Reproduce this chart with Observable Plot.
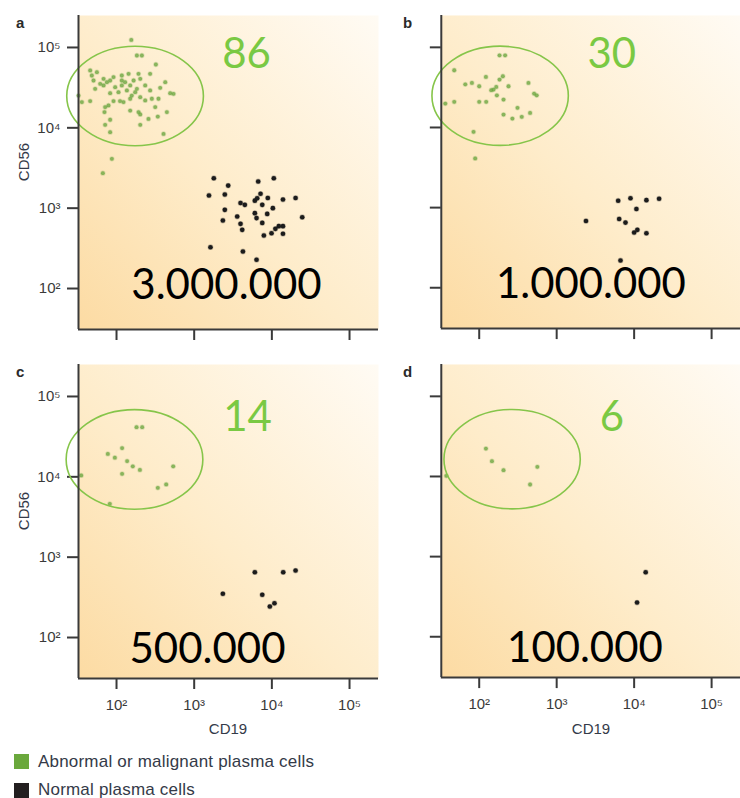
<!DOCTYPE html>
<html><head><meta charset="utf-8">
<script src="https://cdn.jsdelivr.net/npm/d3@7"></script>
<script src="https://cdn.jsdelivr.net/npm/@observablehq/plot@0.6"></script>
<style>
body{margin:0;background:#fff;}
#chart{position:relative;width:740px;height:798px;overflow:hidden;font-family:"Liberation Sans",Arial,sans-serif;}
.panel{position:absolute;}
.panel svg g[aria-label$="tick"] path{stroke-width:2px;}
.lbl{position:absolute;color:#343a48;font-size:15px;line-height:15px;white-space:nowrap;}
.letter{position:absolute;font-weight:bold;font-size:15px;line-height:15px;color:#2a2a2a;}
.sw{position:absolute;width:15px;height:15px;}
.leg{position:absolute;left:38px;font-size:17px;line-height:17px;color:#343a48;white-space:nowrap;letter-spacing:0.2px;}
</style></head><body><div id="chart"></div><script>
// ---- data (CD19 on x, CD56 on y) ----
const aGreenCD19 = [155,183,212,321,45.8,55.9,48.1,68.1,91.5,117,143,192,271,424,50.6,61.6,75.2,82.8,117,129,166,202,53.1,68.1,96.1,117,150,183,234,365,491,542,82.8,106,136,174,271,157,202,35.8,45.8,32.4,91.5,111,123,150,234,285,347,71.4,78.9,150,192,202,315,445,70,82.8,258,340,71.4,202,403,82.8,87.1,66.7];
const aGreenCD56 = [124000,79400,79400,61400,51800,49300,44800,40700,42800,44800,47000,47000,47000,37000,38800,35300,37000,38800,38800,37000,38800,40700,30600,33700,32100,33700,33700,30600,33700,31500,27000,26500,27000,27800,29200,27800,29200,25200,24100,20900,21500,25200,21500,21500,20900,23000,21900,23000,23000,18100,19000,16400,15700,14700,18100,15700,15700,12600,12900,13800,10900,10900,8400,8830,4110,2730];
const aBlackCD19 = [1790,2740,6670,10600,1550,2480,7150,6040,6470,8870,13900,20200,3950,4490,7520,10300,2480,3580,6040,8710,6350,7520,2340,3950,4150,24600,12300,13900,11100,9900,7890,13900,1620,4240,6350];
const aBlackCD56 = [2360,1910,2150,2360,1440,1480,1510,1240,1330,1340,1280,1340,1160,1100,1100,1000,953,787,867,849,752,656,702,638,537,772,597,597,553,488,457,480,327,289,228];

const bGreenCD19 = [183,216,47.6,122,183,202,66.1,80.5,100,166,239,143,153,432,169,206,511,552,36.5,47.6,100,123,312,454,206,268,354,84.5,88.7];
const bGreenCD56 = [79400,79400,51800,42800,39600,43600,34600,36000,32700,32100,32700,29200,29700,36000,25200,22300,26500,25200,19900,20900,20900,20900,17600,15200,14500,12900,13600,8830,4110];
const bBlackCD19 = [6220,8970,14400,21000,10700,2390,6410,7730,10000,11000,14400,6670];
const bBlackCD56 = [1220,1310,1240,1290,962,682,722,650,488,528,479,219];

const cGreenCD19 = [181,214,118,77.3,95.2,137,162,200,537,118,35.1,436,340,82.0];
const cGreenCD56 = [41500,41500,22800,19300,17300,15700,13500,12200,13500,10900,10400,8040,7290,4610];
const cBlackCD19 = [6040,14000,20200,2340,7520,9420,10800];
const cBlackCD56 = [650,650,682,350,340,243,267];

const dGreenCD19 = [122,146,206,563,454,37.6];
const dGreenCD56 = [22300,15500,12000,13200,7940,10200];
const dBlackCD19 = [14100,10900];
const dBlackCD56 = [638,267];

// gate (ellipse) bounds per panel: CD19 min/max, CD56 min/max
const gateCD19 = [[23.2,1334],[24.9,1435],[22.8,1312],[35.6,2046]];
const gateCD56 = [[5890,102000],[5890,102000],[3890,67600],[3890,67600]];

const panelLetters = ["a","b","c","d"];
const abnormalCounts = ["86","30","14","6"];
const totalCells = ["3.000.000","1.000.000","500.000","100.000"];
const tickValues = [1e2,1e3,1e4,1e5];
const xAxisTitle = "CD19", yAxisTitle = "CD56";
const legendLabels = ["Abnormal or malignant plasma cells","Normal plasma cells"];

// ---- layout ----
const xDomain = [32.4, 236000];
const yDomain = [30.9, 250000];
const GREEN = "#7ac943", DOT_GREEN = "#6ea842", AXIS = "#3a3a3a";
const sup = {2:"\u00b2",3:"\u00b3",4:"\u2074",5:"\u2075"};
const fmt = d => "10" + sup[Math.round(Math.log10(d))];

const greens = [[aGreenCD19,aGreenCD56],[bGreenCD19,bGreenCD56],[cGreenCD19,cGreenCD56],[dGreenCD19,dGreenCD56]];
const blacks = [[aBlackCD19,aBlackCD56],[bBlackCD19,bBlackCD56],[cBlackCD19,cBlackCD56],[dBlackCD19,dBlackCD56]];
const layout = [
  {left:0, top:0, yLab:true, xLab:false, count:[168,23], total:[148,254]},
  {left:363, top:0, yLab:false, xLab:false, count:[171,23], total:[150,253]},
  {left:0, top:349, yLab:true, xLab:true, count:[169,37], total:[129,269]},
  {left:363, top:349, yLab:false, xLab:true, count:[171,37], total:[144,269]}
];

const chart = document.getElementById("chart");
const NS = "http://www.w3.org/2000/svg";

layout.forEach((L, i) => {
  const pts = (arr) => arr[0].map((x, k) => ({cd19: x, cd56: arr[1][k]}));
  const gate = {x0: gateCD19[i][0], x1: gateCD19[i][1], y0: gateCD56[i][0], y1: gateCD56[i][1]};
  const gid = "bg" + i;
  const ellipseMark = (index, scales) => {
    const x0 = scales.x(gate.x0), x1 = scales.x(gate.x1), y0 = scales.y(gate.y0), y1 = scales.y(gate.y1);
    const e = document.createElementNS(NS, "ellipse");
    e.setAttribute("cx", (x0 + x1) / 2); e.setAttribute("cy", (y0 + y1) / 2);
    e.setAttribute("rx", Math.abs(x1 - x0) / 2); e.setAttribute("ry", Math.abs(y1 - y0) / 2);
    e.setAttribute("fill", "none"); e.setAttribute("stroke", "#86c54a"); e.setAttribute("stroke-width", 1.6);
    return e;
  };
  const svg = Plot.plot({
    width: 378, height: L.xLab ? 380 : 349,
    marginLeft: 78, marginRight: 0, marginTop: 15, marginBottom: L.xLab ? 51 : 20,
    style: {background: "transparent", color: AXIS, fontSize: "15px", fontFamily: "'Liberation Sans', Arial, sans-serif", overflow: "visible"},
    x: {type: "log", domain: xDomain, ticks: tickValues, tickSize: 11, tickPadding: 10, tickFormat: L.xLab ? fmt : () => "", label: null},
    y: {type: "log", domain: yDomain, ticks: tickValues, tickSize: 11, tickPadding: 7, tickFormat: L.yLab ? fmt : () => "", label: null},
    marks: [
      Plot.frame({fill: `url(#${gid})`, stroke: "none"}),
      Plot.dot(pts(greens[i]), {x: "cd19", y: "cd56", r: 1.9, fill: DOT_GREEN, fillOpacity: 0.8, stroke: DOT_GREEN, strokeOpacity: 0.25, strokeWidth: 1.5}),
      Plot.dot(pts(blacks[i]), {x: "cd19", y: "cd56", r: 2.3, fill: "#1c1c1c", stroke: "#1c1c1c", strokeOpacity: 0.25, strokeWidth: 1.2}),
      ellipseMark,
      Plot.ruleX([xDomain[0]], {stroke: AXIS, strokeWidth: 2}),
      Plot.ruleY([yDomain[0]], {stroke: AXIS, strokeWidth: 2}),
      Plot.text([abnormalCounts[i]], {frameAnchor: "top-left", dx: L.count[0], dy: L.count[1], text: d => d, fill: GREEN, fontSize: 42, fontFamily: "Lato, 'Open Sans', sans-serif", textAnchor: "middle"}),
      Plot.text([totalCells[i]], {frameAnchor: "top-left", dx: L.total[0], dy: L.total[1], text: d => d, fill: "#000", fontSize: 42, fontFamily: "Lato, 'Open Sans', sans-serif", textAnchor: "middle"})
    ]
  });
  const defs = d3.select(svg).insert("defs", ":first-child");
  const g = defs.append("linearGradient").attr("id", gid).attr("x1", 0).attr("y1", 1).attr("x2", 1).attr("y2", 0);
  g.append("stop").attr("offset", "0").attr("stop-color", "#fcdba3");
  g.append("stop").attr("offset", "0.45").attr("stop-color", "#feecca");
  g.append("stop").attr("offset", "1").attr("stop-color", "#fffbf4");
  const wrap = document.createElement("div");
  wrap.className = "panel";
  wrap.style.left = L.left + "px"; wrap.style.top = L.top + "px";
  wrap.appendChild(svg);
  chart.appendChild(wrap);

  const letter = document.createElement("div");
  letter.className = "letter"; letter.textContent = panelLetters[i];
  letter.style.left = (L.left + (i % 2 ? 40 : 16)) + "px"; letter.style.top = (L.top + 15) + "px";
  chart.appendChild(letter);

  if (L.yLab) {
    const t = document.createElement("div");
    t.className = "lbl"; t.textContent = yAxisTitle;
    t.style.left = (L.left + 23) + "px"; t.style.top = (L.top + 162) + "px";
    t.style.transform = "translate(-50%,-50%) rotate(-90deg)";
    chart.appendChild(t);
  }
  if (L.xLab) {
    const t = document.createElement("div");
    t.className = "lbl"; t.textContent = xAxisTitle;
    t.style.left = (L.left + 228) + "px"; t.style.top = (L.top + 379) + "px";
    t.style.transform = "translate(-50%,-50%)";
    chart.appendChild(t);
  }
});

// legend
const legColors = ["#6aa83c", "#231f20"];
legendLabels.forEach((lab, i) => {
  const sw = document.createElement("div");
  sw.className = "sw"; sw.style.left = "14px"; sw.style.top = (754 + i * 29) + "px"; sw.style.background = legColors[i];
  chart.appendChild(sw);
  const t = document.createElement("div");
  t.className = "leg"; t.textContent = lab; t.style.top = (753 + i * 28) + "px";
  chart.appendChild(t);
});
</script></body></html>
